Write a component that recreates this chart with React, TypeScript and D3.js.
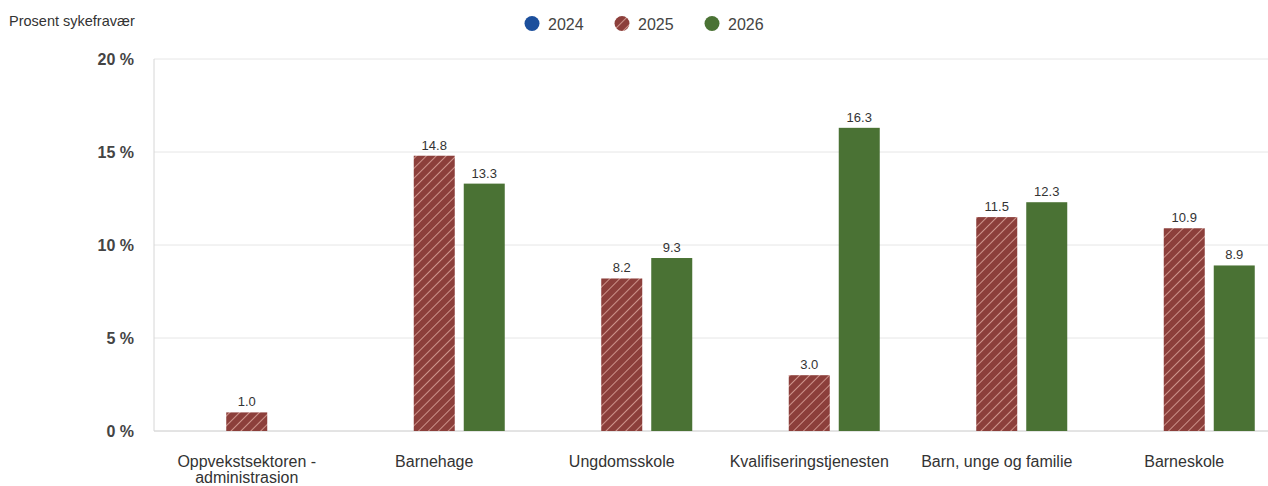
import React from "react";
import * as d3 from "d3";

const categories = [
  "Oppvekstsektoren - administrasion",
  "Barnehage",
  "Ungdomsskole",
  "Kvalifiseringstjenesten",
  "Barn, unge og familie",
  "Barneskole",
];
const categoryLines = [
  ["Oppvekstsektoren -", "administrasion"],
  ["Barnehage"],
  ["Ungdomsskole"],
  ["Kvalifiseringstjenesten"],
  ["Barn, unge og familie"],
  ["Barneskole"],
];
const seriesNames = ["2024", "2025", "2026"];
const values2024: (number | null)[] = [null, null, null, null, null, null];
const values2025: (number | null)[] = [1.0, 14.8, 8.2, 3.0, 11.5, 10.9];
const values2026: (number | null)[] = [null, 13.3, 9.3, 16.3, 12.3, 8.9];
const yTicks = [0, 5, 10, 15, 20];

const W = 1268;
const H = 486;
const PLOT_LEFT = 153;
const PLOT_RIGHT = 1278;
const PLOT_TOP = 59;
const PLOT_BOTTOM = 431;

export default function App() {
  const x0 = d3
    .scaleBand<string>()
    .domain(categories)
    .range([PLOT_LEFT, PLOT_RIGHT])
    .paddingInner(0.248)
    .paddingOuter(0.124);
  const x1 = d3
    .scaleBand<string>()
    .domain(seriesNames)
    .range([0, x0.bandwidth()])
    .paddingInner(0.18);
  const y = d3.scaleLinear().domain([0, 20]).range([PLOT_BOTTOM, PLOT_TOP]);

  const colors: Record<string, string> = {
    "2024": "#1c4f9c",
    "2025": "#8c3f3b",
    "2026": "#4a7234",
  };
  const all = [values2024, values2025, values2026];
  const font = "'Liberation Sans', Arial, sans-serif";

  return (
    <svg
      width={W}
      height={H}
      style={{ position: "absolute", left: 0, top: 0, background: "#fff" }}
      fontFamily={font}
    >
      <defs>
        <pattern id="stripe" patternUnits="userSpaceOnUse" width={7} height={7} patternTransform="rotate(45)">
          <rect width={7} height={7} fill={colors["2025"]} />
          <line x1={0} y1={0} x2={0} y2={7} stroke="#e9b7ae" strokeWidth={1.4} />
        </pattern>
      </defs>
      <text x={9} y={26} fontSize={14.5} fill="#333">
        Prosent sykefravær
      </text>
      {/* legend */}
      {seriesNames.map((s, i) => {
        const cx = 532 + i * 90;
        return (
          <g key={s}>
            <circle cx={cx} cy={23.5} r={7.5} fill={s === "2025" ? "url(#stripe)" : colors[s]} />
            <text x={cx + 16} y={29.5} fontSize={16} fill="#444">
              {s}
            </text>
          </g>
        );
      })}
      {/* grid */}
      {yTicks.map((t) => (
        <g key={t}>
          <line
            x1={154}
            x2={W}
            y1={y(t)}
            y2={y(t)}
            stroke={t === 0 ? "#c8c8c8" : "#e6e6e6"}
            strokeWidth={1}
          />
          <text x={134} y={y(t) + 6} fontSize={16} fontWeight="bold" fill="#444" textAnchor="end">
            {t} %
          </text>
        </g>
      ))}
      <line x1={154} x2={154} y1={PLOT_TOP} y2={y(0)} stroke="#d6d6d6" />
      {/* bars */}
      {categories.map((c, ci) => (
        <g key={c} transform={`translate(${x0(c)},0)`}>
          {seriesNames.map((s, si) => {
            const v = all[si][ci];
            if (v == null) return null;
            const bx = x1(s)!;
            const bw = x1.bandwidth();
            return (
              <g key={s}>
                <rect
                  x={bx}
                  y={y(v)}
                  width={bw}
                  height={y(0) - y(v)}
                  fill={s === "2025" ? "url(#stripe)" : colors[s]}
                />
                <text x={bx + bw / 2} y={y(v) - 6} fontSize={13} fill="#333" textAnchor="middle">
                  {v.toFixed(1)}
                </text>
              </g>
            );
          })}
        </g>
      ))}
      {/* category labels */}
      {categories.map((c, ci) => (
        <text
          key={c}
          x={x0(c)! + x0.bandwidth() / 2}
          y={y(0) + 36}
          fontSize={16}
          fill="#333"
          textAnchor="middle"
        >
          {categoryLines[ci].map((l, li) => (
            <tspan key={li} x={x0(c)! + x0.bandwidth() / 2} dy={li === 0 ? 0 : 16}>
              {l}
            </tspan>
          ))}
        </text>
      ))}
    </svg>
  );
}
